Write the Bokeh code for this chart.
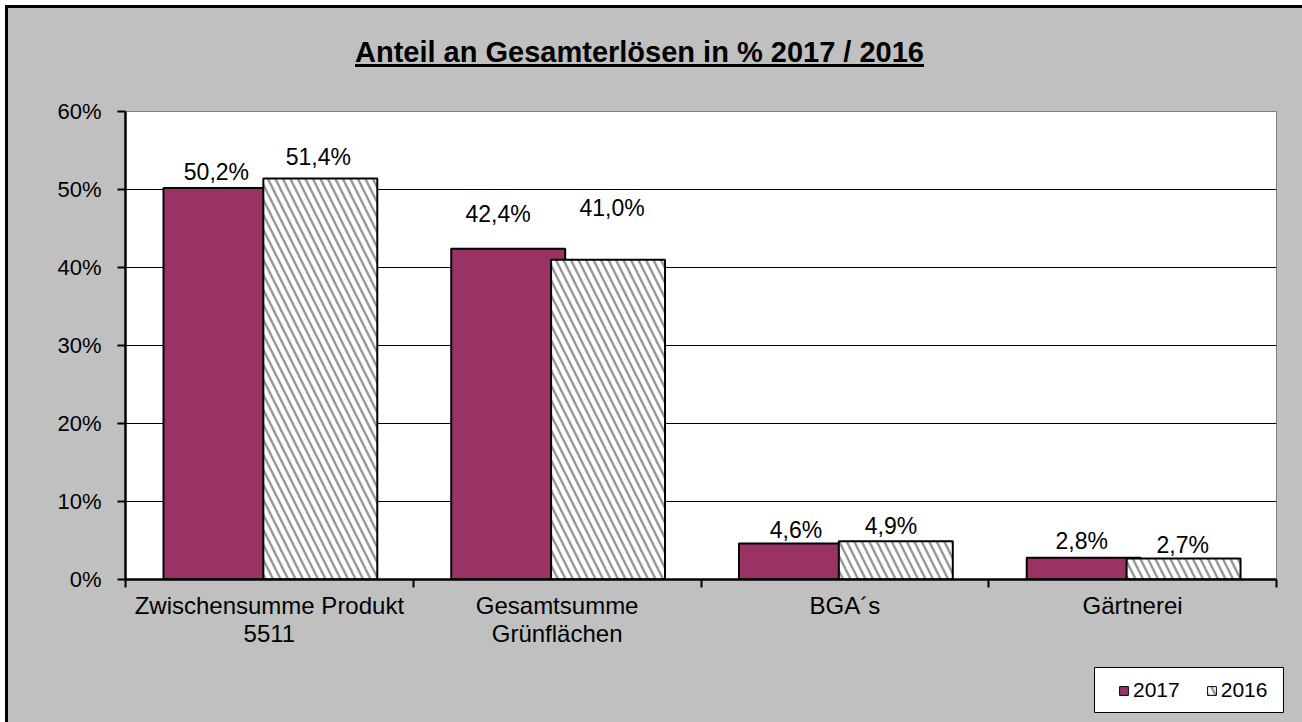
from bokeh.plotting import figure
from bokeh.layouts import column, row
from bokeh.models import Range1d, FixedTicker, Legend, LegendItem, ColumnDataSource, Div
from bokeh.embed import file_html
from bokeh.resources import INLINE
from bokeh.core.properties import value

# ---------------- data ----------------
chart_title = "Anteil an Gesamterlösen in % 2017 / 2016"
categories = ["Zwischensumme Produkt\n5511", "Gesamtsumme\nGrünflächen", "BGA´s", "Gärtnerei"]
series_names = ["2017", "2016"]
values_2017 = [50.2, 42.4, 4.6, 2.8]
values_2016 = [51.4, 41.0, 4.9, 2.7]
y_ticks = [0, 10, 20, 30, 40, 50, 60]
y_tick_labels = ["0%", "10%", "20%", "30%", "40%", "50%", "60%"]

# ---------------- layout / style ----------------
FONT = "Liberation Sans"
PURPLE = "#993366"
GREY_BG = "#c0c0c0"
HATCH_GREY = "#9a9a9a"
OFF_2017 = -0.170
OFF_2016 = 0.177
BAR_W = 0.396
label_dy_2017 = [2.0, 4.4, 1.7, 2.1]
label_dy_2016 = [2.8, 6.6, 2.0, 1.7]
label_dx_2017 = [-0.014, -0.035, 0.0, -0.007]
label_dx_2016 = [-0.007, 0.014, -0.017, -0.003]

ORIGIN_X, ORIGIN_Y = 8, 8          # page position of content (after 5px margin + 3px border)
TITLE_H = 80
W = 1302 - ORIGIN_X
FIG_Y = ORIGIN_Y + TITLE_H          # page y of the main figure canvas
LEG_L, LEG_T, LEG_R, LEG_B = 1094, 667, 1284, 713   # legend box in page px
H = LEG_T - FIG_Y
PF_L, PF_T, PF_R, PF_B = 125, 111, 1276, 579   # plot frame in page px
BOTTOM_H = 722 - LEG_T


def fmt(v):
    return ("%.1f" % v).replace(".", ",") + "%"


n = len(categories)
idx = list(range(n))
src17 = ColumnDataSource(dict(
    x=[i + 0.5 + OFF_2017 for i in idx], top=values_2017,
    lx=[i + 0.5 + OFF_2017 + d for i, d in zip(idx, label_dx_2017)],
    ly=[v + d for v, d in zip(values_2017, label_dy_2017)],
    txt=[fmt(v) for v in values_2017]))
src16 = ColumnDataSource(dict(
    x=[i + 0.5 + OFF_2016 for i in idx], top=values_2016,
    lx=[i + 0.5 + OFF_2016 + d for i, d in zip(idx, label_dx_2016)],
    ly=[v + d for v, d in zip(values_2016, label_dy_2016)],
    txt=[fmt(v) for v in values_2016]))

style17 = dict(fill_color=PURPLE, line_color="black")
style16 = dict(fill_color="white", hatch_pattern="\\", hatch_color=HATCH_GREY,
               hatch_scale=15, hatch_weight=2.5, line_color="black")

p = figure(width=W, height=H, output_backend="svg", toolbar_location=None,
           x_range=Range1d(0, n), y_range=Range1d(y_ticks[0], y_ticks[-1]),
           min_border_left=PF_L - ORIGIN_X, min_border_top=PF_T - FIG_Y,
           min_border_right=W - (PF_R - ORIGIN_X), min_border_bottom=H - (PF_B - FIG_Y))
p.title = None
p.border_fill_color = GREY_BG
p.background_fill_color = "white"
p.outline_line_color = "#808080"
p.outline_line_width = 1

p.vbar(x="x", top="top", width=BAR_W, bottom=0, source=src17, line_width=2, **style17)
p.vbar(x="x", top="top", width=BAR_W, bottom=0, source=src16, line_width=2, **style16)

for s in (src17, src16):
    p.text(x="lx", y="ly", text="txt", source=s, text_align="center", text_baseline="middle",
           text_font=value(FONT), text_font_size="23px", text_color="black")

# y axis
p.yaxis.ticker = FixedTicker(ticks=y_ticks)
p.yaxis.major_label_overrides = {t: l for t, l in zip(y_ticks, y_tick_labels)}
p.yaxis.major_label_text_font = FONT
p.yaxis.major_label_text_font_size = "22px"
p.yaxis.major_label_text_color = "black"
p.yaxis.major_tick_out = 8
p.yaxis.major_tick_in = 0
p.yaxis.major_tick_line_width = 2
p.yaxis.minor_tick_line_color = None
p.yaxis.axis_line_width = 2.5
p.yaxis.axis_line_color = "black"
p.yaxis.major_label_standoff = 16

# x axis
p.xaxis.ticker = FixedTicker(ticks=[i + 0.5 for i in idx], minor_ticks=list(range(n + 1)))
p.xaxis.major_label_overrides = {i + 0.5: c for i, c in zip(idx, categories)}
p.xaxis.major_label_text_font = FONT
p.xaxis.major_label_text_font_size = "24px"
p.xaxis.major_label_text_line_height = 1.05
p.xaxis.major_label_text_color = "black"
p.xaxis.major_tick_out = 0
p.xaxis.major_tick_in = 0
p.xaxis.minor_tick_out = 8
p.xaxis.minor_tick_in = 0
p.xaxis.minor_tick_line_width = 2
p.xaxis.minor_tick_line_color = "black"
p.xaxis.axis_line_width = 2.5
p.xaxis.axis_line_color = "black"
p.xaxis.major_label_standoff = 4

p.xgrid.grid_line_color = None
p.ygrid.ticker = FixedTicker(ticks=y_ticks[1:])
p.ygrid.grid_line_color = "black"
p.ygrid.grid_line_width = 1

# ---------------- legend (own small figure, box = its frame outline) ----------------
lw, lh = LEG_R - LEG_L, LEG_B - LEG_T
pl = figure(width=lw, height=lh, output_backend="svg", toolbar_location=None,
            x_range=Range1d(100, 101), y_range=Range1d(100, 101),
            x_axis_location=None, y_axis_location=None, min_border=0)
pl.title = None
pl.grid.visible = False
pl.background_fill_color = "white"
pl.border_fill_color = GREY_BG
pl.outline_line_color = "black"
pl.outline_line_width = 1
lr17 = pl.vbar(x="x", top="top", width=BAR_W, source=src17, line_width=1, **style17)
lr16 = pl.vbar(x="x", top="top", width=BAR_W, source=src16, line_width=1, **style16)
legend = Legend(items=[LegendItem(label=series_names[0], renderers=[lr17]),
                       LegendItem(label=series_names[1], renderers=[lr16])],
                orientation="horizontal", location=(1118 - LEG_L, 11),
                label_text_font=FONT, label_text_font_size="21px", label_text_color="black",
                glyph_width=11, glyph_height=11, label_standoff=4, spacing=26,
                padding=0, margin=0, border_line_color=None,
                background_fill_color=None)
pl.add_layout(legend, "center")

spacer = Div(text="", width=LEG_L - ORIGIN_X, height=BOTTOM_H, margin=0,
             styles={"background-color": GREY_BG})
bottom = row(spacer, pl, spacing=0, styles={"background-color": GREY_BG})

title_html = (
    '<div style="padding-left:%dpx; padding-top:27px; font-family:\'%s\'; font-weight:bold; '
    'font-size:29px; line-height:35px; color:black; white-space:nowrap;">'
    '<span style="text-decoration:underline; text-decoration-thickness:3px; '
    'text-underline-offset:2px;">%s</span></div>' % (355 - ORIGIN_X, FONT, chart_title))
title_div = Div(text=title_html, width=W, height=TITLE_H, margin=0,
                styles={"background-color": GREY_BG, "margin": "0", "padding": "0"})

layout = column(title_div, p, bottom, spacing=0,
                styles={"margin-left": "5px", "margin-top": "5px",
                        "border-left": "3px solid black", "border-top": "3px solid black",
                        "border-right": "none", "border-bottom": "none",
                        "background-color": GREY_BG})

open("out.html", "w").write(file_html(layout, INLINE))
